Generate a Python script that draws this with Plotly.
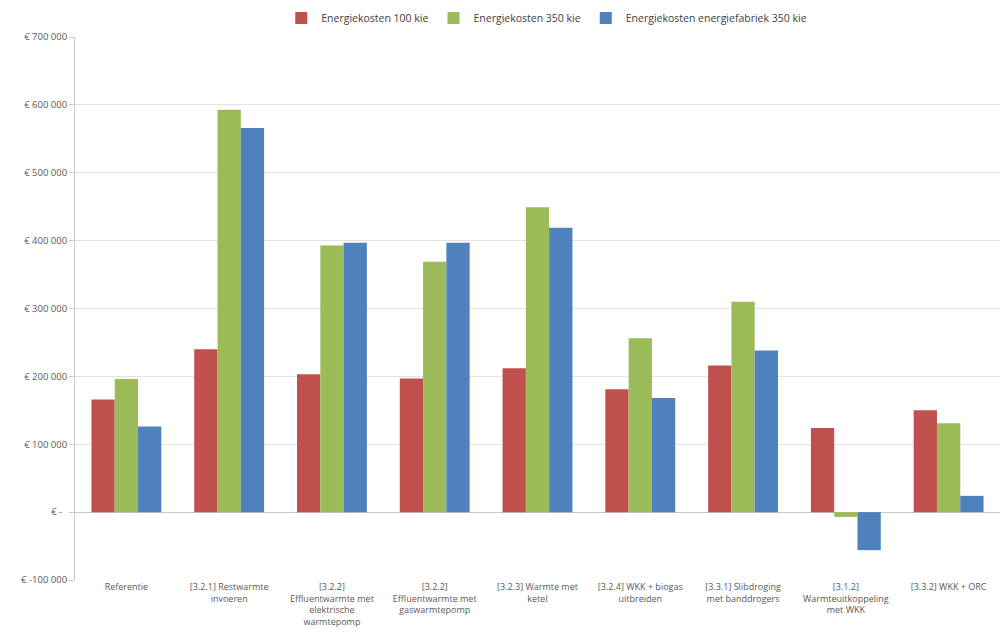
import plotly.graph_objects as go

categories = [
    "Referentie",
    "[3.2.1] Restwarmte<br>invoeren",
    "[3.2.2]<br>Effluentwarmte met<br>elektrische<br>warmtepomp",
    "[3.2.2]<br>Effluentwarmte met<br>gaswarmtepomp",
    "[3.2.3] Warmte met<br>ketel",
    "[3.2.4] WKK + biogas<br>uitbreiden",
    "[3.3.1] Slibdroging<br>met banddrogers",
    "[3.1.2]<br>Warmteuitkoppeling<br>met WKK",
    "[3.3.2] WKK + ORC",
]
kosten_100 = [166000, 240000, 203000, 197000, 212000, 181000, 216000, 124000, 150000]
kosten_350 = [196000, 593000, 393000, 369000, 449000, 256000, 310000, -7000, 131000]
kosten_fabriek_350 = [126000, 566000, 397000, 397000, 419000, 168000, 238000, -56000, 24000]

series_names = ["Energiekosten 100 kie", "Energiekosten 350 kie", "Energiekosten energiefabriek 350 kie"]
colors = ["#C0504D", "#9BBB59", "#4F81BD"]

tick_vals = [-100000, 0, 100000, 200000, 300000, 400000, 500000, 600000, 700000]
tick_text = ["€ -100 000", "€ -  ", "€ 100 000", "€ 200 000", "€ 300 000", "€ 400 000",
             "€ 500 000", "€ 600 000", "€ 700 000"]

fig = go.Figure()
for name, vals, col in zip(series_names, [kosten_100, kosten_350, kosten_fabriek_350], colors):
    fig.add_trace(go.Bar(x=categories, y=vals, name=name, marker_color=col,
                         marker_line_width=0))

fig.update_layout(
    width=1005, height=643,
    paper_bgcolor="white", plot_bgcolor="white",
    barmode="group", bargap=0.32, bargroupgap=0,
    margin=dict(l=75, r=5, t=37, b=63, autoexpand=False),
    font=dict(family="Open Sans, Liberation Sans, sans-serif", size=9, color="#595959"),
    legend=dict(orientation="h", x=0.51, xanchor="center", y=1.035, yanchor="middle",
                font=dict(size=10.5, color="#404040"), itemwidth=30, traceorder="normal"),
    showlegend=True,
)
fig.update_yaxes(range=[-100000, 700000], tickvals=tick_vals, ticktext=tick_text,
                 showgrid=True, gridcolor="#E3E3E3", gridwidth=1,
                 zeroline=True, zerolinecolor="#C8C8C8", zerolinewidth=1,
                 showline=True, linecolor="#C8C8C8", linewidth=1,
                 ticks="outside", ticklen=5, tickcolor="#C8C8C8",
                 tickfont=dict(size=9.5, color="#595959"))
fig.update_xaxes(showline=False, ticks="", tickangle=0,
                 tickfont=dict(size=9, color="#595959"))

fig.write_html("out.html")
